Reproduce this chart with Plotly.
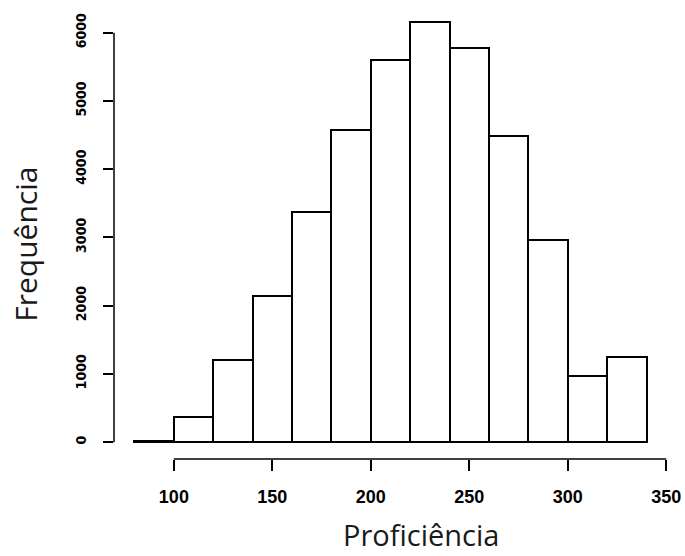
import plotly.graph_objects as go

breaks = [80, 100, 120, 140, 160, 180, 200, 220, 240, 260, 280, 300, 320, 340]
counts = [15, 375, 1205, 2140, 3375, 4580, 5595, 6160, 5775, 4485, 2960, 975, 1250]
x_ticks = [100, 150, 200, 250, 300, 350]
y_ticks = [0, 1000, 2000, 3000, 4000, 5000, 6000]
x_title = "Proficiência"
y_title = "Frequência"

centers = [(a + b) / 2 for a, b in zip(breaks[:-1], breaks[1:])]
widths = [b - a for a, b in zip(breaks[:-1], breaks[1:])]

x_lo, x_hi = breaks[0], breaks[-1]
xpad = 0.04 * (x_hi - x_lo)
ymax = max(counts)
ypad = 0.04 * ymax

fig = go.Figure()
fig.add_trace(go.Bar(
    x=centers, y=counts, width=widths,
    marker=dict(color="white", line=dict(color="black", width=2)),
    showlegend=False, hoverinfo="skip",
))

xtickfont = dict(family="Liberation Sans, Arial, sans-serif", size=18, color="black", weight="bold")
ytickfont = dict(family="Liberation Sans Narrow, Arial Narrow, DejaVu Sans Condensed, sans-serif",
                 size=14, color="black", weight="bold")
titlefont = dict(family="Open Sans, sans-serif", size=29, color="#1a1a1a")

fig.update_layout(
    width=685, height=556,
    margin=dict(l=113.5, r=17.5, t=4.6, b=96.9),
    paper_bgcolor="white", plot_bgcolor="white",
    bargap=0,
    xaxis=dict(
        range=[x_lo - xpad, x_hi + xpad],
        tickvals=x_ticks, ticktext=[str(v) for v in x_ticks],
        ticks="outside", ticklen=11, tickwidth=1.5, tickcolor="black",
        showgrid=False, zeroline=False, showline=False,
        tickfont=xtickfont, ticklabelstandoff=10,
    ),
    yaxis=dict(
        range=[-ypad, ymax + ypad],
        tickvals=y_ticks, ticktext=[str(v) for v in y_ticks],
        ticks="outside", ticklen=10, tickwidth=1.5, tickcolor="black",
        showgrid=False, zeroline=False, showline=False,
        tickangle=-90, tickfont=ytickfont, ticklabelstandoff=11,
    ),
    shapes=[
        dict(type="line", xref="paper", yref="y", x0=0, x1=0,
             y0=y_ticks[0], y1=y_ticks[-1], line=dict(color="black", width=1.5)),
        dict(type="line", xref="x", yref="paper", x0=x_ticks[0], x1=x_ticks[-1],
             y0=0, y1=0, line=dict(color="black", width=1.5)),
    ],
    annotations=[
        dict(text=x_title, xref="paper", yref="paper", x=0.555, y=-0.167,
             showarrow=False, xanchor="center", yanchor="middle", font=titlefont),
        dict(text=y_title, xref="paper", yref="paper", x=-0.16, y=0.473,
             showarrow=False, xanchor="center", yanchor="middle", textangle=-90,
             font=dict(family="Open Sans, sans-serif", size=30, color="#1a1a1a")),
    ],
)

fig.write_html("out.html", config={"displayModeBar": False},
               post_script="document.body.style.margin='0';")
